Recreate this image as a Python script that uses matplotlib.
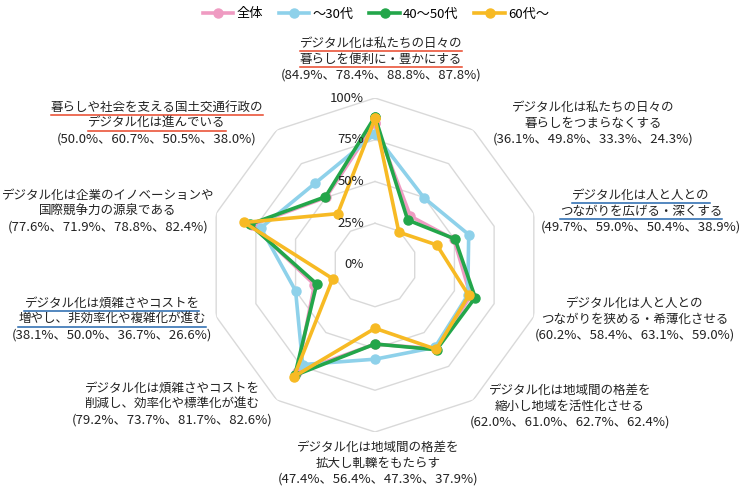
import numpy as np
import matplotlib
matplotlib.use('Agg')
import matplotlib.pyplot as plt
from matplotlib.lines import Line2D

plt.rcParams['font.family'] = ['Noto Sans CJK JP', 'DejaVu Sans']

# data, clockwise from the top axis
categories = [
    'デジタル化は私たちの日々の\n暮らしを便利に・豊かにする',
    'デジタル化は私たちの日々の\n暮らしをつまらなくする',
    'デジタル化は人と人との\nつながりを広げる・深くする',
    'デジタル化は人と人との\nつながりを狭める・希薄化させる',
    'デジタル化は地域間の格差を\n縮小し地域を活性化させる',
    'デジタル化は地域間の格差を\n拡大し軋轢をもたらす',
    'デジタル化は煩雑さやコストを\n削減し、効率化や標準化が進む',
    'デジタル化は煩雑さやコストを\n増やし、非効率化や複雑化が進む',
    'デジタル化は企業のイノベーションや\n国際競争力の源泉である',
    '暮らしや社会を支える国土交通行政の\nデジタル化は進んでいる',
]
series_names = ['全体', '～30代', '40～50代', '60代～']
total = [84.9, 36.1, 49.7, 60.2, 62.0, 47.4, 79.2, 38.1, 77.6, 50.0]
age_u30 = [78.4, 49.8, 59.0, 58.4, 61.0, 56.4, 73.7, 50.0, 71.9, 60.7]
age_40_50 = [88.8, 33.3, 50.4, 63.1, 62.7, 47.3, 81.7, 36.7, 78.8, 50.5]
age_60 = [87.8, 24.3, 38.9, 59.0, 62.4, 37.9, 82.6, 26.6, 82.4, 38.0]
ring_ticks = [0, 25, 50, 75, 100]

colors = ['#ef9bc2', '#8ed1ea', '#23a64a', '#f7ba24']
W, H = 749, 491
# label block centre x and top line y (pixels), underline colour
label_pos = [(381, 43, '#e8462a'), (593, 107, None), (641, 195, '#2467ad'),
             (635, 303, None), (570, 390, None), (378, 447, None),
             (172, 388, None), (112, 303, '#2467ad'), (108, 195, None),
             (157, 107, '#e8462a')]

fig = plt.figure(figsize=(W / 100, H / 100), dpi=100)
cx, cy, R = 375, 265, 167
ax = fig.add_axes([(cx - R) / W, (H - cy - R) / H, 2 * R / W, 2 * R / H],
                  projection='polar')
ax.set_theta_offset(np.pi / 2)
ax.set_theta_direction(-1)
ax.set_ylim(0, 100)
ax.axis('off')

n = len(categories)
theta = np.linspace(0, 2 * np.pi, n, endpoint=False)
theta_c = np.append(theta, theta[0])

for r in ring_ticks[1:]:
    ax.plot(theta_c, [r] * (n + 1), color='#d9d9d9', lw=1.0, zorder=1)
for r in ring_ticks:
    ax.annotate('%d%%' % r, xy=(0, r), xytext=(-11, 0), textcoords='offset pixels',
                ha='right', va='center', fontsize=9.5, color='#222222', zorder=6)

handles = []
for name, vals, c in zip(series_names, [total, age_u30, age_40_50, age_60], colors):
    v = np.append(vals, vals[0])
    ln, = ax.plot(theta_c, v, color=c, lw=2.6, marker='o', ms=6.5, mec=c, mfc=c,
                  label=name, zorder=3, clip_on=False)
    handles.append(ln)

fig.legend(handles=handles, labels=series_names, loc='center',
           bbox_to_anchor=(376 / W, 1 - 14 / H), ncol=4, frameon=False,
           fontsize=9.5, handlelength=2.3, handletextpad=0.25, columnspacing=1.2)

def px(x, y):
    return x / W, 1 - y / H

lines_drawn = []
for cat, vals, (lx, ly, ucol) in zip(categories, zip(total, age_u30, age_40_50, age_60), label_pos):
    parts = cat.split('\n')
    parts.append('(' + '、'.join('%.1f%%' % v for v in vals) + ')')
    for k, s in enumerate(parts):
        t = fig.text(*px(lx, ly + 16 * k), s, ha='center', va='center',
                     fontsize=9 if k < 2 else 9.5, color='#222222')
        if ucol and k < 2:
            lines_drawn.append((t, ucol))

fig.canvas.draw()
renderer = fig.canvas.get_renderer()
for t, ucol in lines_drawn:
    bb = t.get_window_extent(renderer)
    y = bb.y0 - 1.5
    fig.add_artist(Line2D([bb.x0 / W, bb.x1 / W], [y / H, y / H],
                          transform=fig.transFigure, color=ucol, lw=1.1))

fig.savefig('out.png', dpi=100)
